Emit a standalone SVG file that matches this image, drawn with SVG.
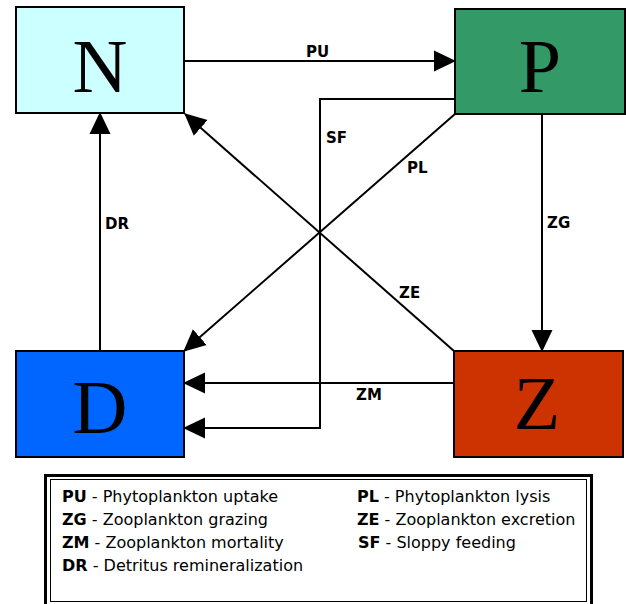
<svg xmlns="http://www.w3.org/2000/svg" width="626" height="604" viewBox="0 0 626 604">
<style>
.box{stroke:#000;stroke-width:2}
.big{font-family:"Liberation Serif","Times New Roman",serif;font-size:76px;text-anchor:middle;fill:#000}
.conn{fill:none;stroke:#000;stroke-width:2}
.lbl{font-family:"DejaVu Sans",sans-serif;font-weight:bold;font-size:15px;fill:#000}
.leg{font-family:"DejaVu Sans",sans-serif;font-size:16px;fill:#000}
.leg tspan.b{font-weight:bold}
</style>
<defs>
<marker id="ah" markerUnits="userSpaceOnUse" markerWidth="22" markerHeight="22" refX="21" refY="10.5" orient="auto" viewBox="0 0 22 21">
<path d="M0,0 L22,10.5 L0,21 z" fill="#000"/>
</marker>
</defs>
<rect width="626" height="604" fill="#fff"/>
<g id="connectors">
<path class="conn" d="M184,61 H455" marker-end="url(#ah)"/>
<path class="conn" d="M455,99 H320 V428 H184" marker-end="url(#ah)"/>
<path class="conn" d="M455,114 L184,351" marker-end="url(#ah)"/>
<path class="conn" d="M454,351 L185,114" marker-end="url(#ah)"/>
<path class="conn" d="M542,114 V351" marker-end="url(#ah)"/>
<path class="conn" d="M454,383 H184" marker-end="url(#ah)"/>
<path class="conn" d="M100,351 V113" marker-end="url(#ah)"/>
<text class="lbl" x="306" y="57">PU</text>
<text class="lbl" x="326" y="143">SF</text>
<text class="lbl" x="407" y="173">PL</text>
<text class="lbl" x="547" y="228">ZG</text>
<text class="lbl" x="399" y="298">ZE</text>
<text class="lbl" x="356" y="400">ZM</text>
<text class="lbl" x="105" y="229">DR</text>
</g>
<g id="N">
<rect class="box" x="16" y="7" width="168" height="106" fill="#ccffff"/>
<text class="big" x="100" y="92">N</text>
</g>
<g id="P">
<rect class="box" x="455" y="9" width="170" height="105" fill="#339966"/>
<text class="big" x="540" y="92">P</text>
</g>
<g id="D">
<rect class="box" x="16" y="351" width="168" height="106" fill="#0066ff"/>
<text class="big" x="100" y="433">D</text>
</g>
<g id="Z">
<rect class="box" x="454" y="351" width="169" height="106" fill="#cc3300"/>
<text class="big" x="537" y="429">Z</text>
</g>
<g id="legend">
<rect x="45.5" y="475.5" width="546" height="140" fill="#fff" stroke="#000" stroke-width="3"/>
<rect x="50.5" y="479.5" width="536" height="122" fill="none" stroke="#000" stroke-width="1"/>
<text class="leg" x="62" y="502"><tspan class="b">PU</tspan> - Phytoplankton uptake</text>
<text class="leg" x="62" y="525"><tspan class="b">ZG</tspan> - Zooplankton grazing</text>
<text class="leg" x="62" y="548"><tspan class="b">ZM</tspan> - Zooplankton mortality</text>
<text class="leg" x="62" y="571"><tspan class="b">DR</tspan> - Detritus remineralization</text>
<text class="leg" x="357" y="502"><tspan class="b">PL</tspan> - Phytoplankton lysis</text>
<text class="leg" x="357" y="525"><tspan class="b">ZE</tspan> - Zooplankton excretion</text>
<text class="leg" x="358" y="548"><tspan class="b">SF</tspan> - Sloppy feeding</text>
</g>
</svg>
